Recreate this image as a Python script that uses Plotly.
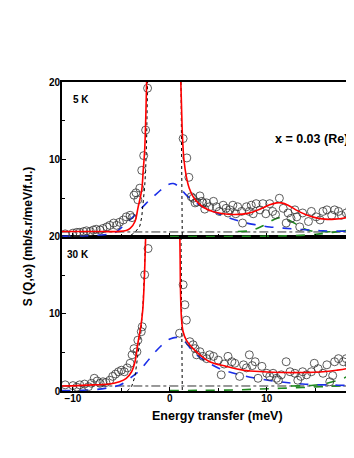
import plotly.graph_objects as go

# ---- 5 K panel (top) ----
e_5k = [-10.8, -10.0, -9.6, -9.3, -8.9, -8.6, -8.2, -7.9, -7.6, -7.2, -6.9, -6.5, -6.2, -5.8,
        -5.5, -5.2, -4.8, -4.5, -4.1, -3.9, -3.7, -3.5, -3.3, -3.1, -2.9, -2.7, -2.5, -2.3,
        1.37, 1.75, 1.96, 2.2, 2.4, 2.6, 2.8, 3.1, 3.3, 3.4, 3.6, 3.8, 4.1, 4.5, 4.8, 5.1,
        5.5, 5.8, 6.0, 6.2, 6.5, 6.8, 7.0, 7.4, 7.5, 7.9, 8.2, 8.4, 8.6, 8.9, 9.3, 9.6, 9.9,
        10.3, 10.6, 10.9, 11.3, 11.7, 12.0, 12.2, 12.5, 12.9, 13.1, 13.4, 13.7, 14.3, 14.6,
        15.1, 15.5, 15.8, 16.2, 16.7, 17.0, 17.4, 17.7, 18.2, 18.6, 18.8]
s_5k = [0.4, 0.5, 0.6, 0.6, 0.7, 0.8, 0.7, 0.9, 1.0, 0.9, 1.1, 1.3, 1.5, 1.8,
        1.5, 1.9, 2.2, 2.6, 2.8, 2.5, 5.4, 5.7, 4.8, 6.3, 8.6, 10.5, 13.8, 19.2,
        12.7, 10.2, 7.7, 5.2, 5.0, 4.4, 4.5, 5.3, 4.6, 4.4, 3.6, 4.4, 3.9, 4.6, 3.9, 3.3,
        4.1, 3.7, 3.1, 3.5, 4.1, 3.0, 3.9, 3.3, 1.8, 3.9, 3.3, 4.1, 3.0, 4.3, 3.5, 4.3, 3.0,
        4.3, 3.3, 2.9, 5.0, 3.7, 1.8, 3.1, 2.4, 3.5, 2.6, 1.3, 3.1, 2.0, 3.3,
        2.6, 2.2, 3.3, 3.5, 2.8, 3.5, 3.3, 2.8, 3.1, 3.7, 3.1]

fit_e_5k = [-11.2, -9.0, -7.0, -5.2, -4.5, -4.1, -3.6, -3.3, -2.9, -2.75, -2.6, -2.4, None,
            1.13, 1.2, 1.3, 1.45, 1.7, 2.0, 2.5, 3.0, 3.5, 4.5, 5.5, 6.5, 7.5, 8.5, 9.5,
            10.3, 11.0, 11.5, 12.2, 13.0, 14.0, 15.0, 16.0, 17.0, 18.0, 19.0, 20.0]
fit_s_5k = [0.7, 0.7, 0.7, 0.72, 0.85, 1.1, 2.0, 3.7, 6.1, 8.6, 11.2, 20, None,
            20, 17, 13, 10, 7.8, 6.3, 5.0, 4.3, 3.8, 3.25, 3.0, 2.9, 2.95, 3.2, 3.7,
            4.15, 4.4, 4.4, 4.1, 3.5, 2.9, 2.5, 2.3, 2.3, 2.45, 2.8, 3.2]

qe_e_5k = [-11.2, -9.0, -7.2, -6.2, -5.5, -4.5, -3.8, -3.1, -2.4, -1.7, -1.0, -0.3, 0.35, 1.0,
           1.7, 2.2, 2.75, 3.4, 4.1, 5.0, 5.8, 6.8, 7.9, 9.0, 10.3, 11.7, 13.1, 14.5, 15.8,
           17.5, 19.1, 20.0]
qe_s_5k = [0.1, 0.15, 0.25, 0.4, 0.7, 1.8, 2.6, 3.5, 4.4, 5.2, 6.0, 6.7, 6.9, 6.4,
           5.4, 4.9, 4.35, 3.9, 3.5, 3.0, 2.6, 2.2, 1.8, 1.55, 1.3, 1.15, 1.0, 0.9, 0.8,
           0.75, 0.7, 0.7]

cef_e_5k = [7.0, 8.2, 9.0, 9.6, 10.2, 10.8, 11.3, 11.8, 12.4, 12.9, 13.4, 13.9, 14.5, 15.5,
            16.5, 17.5, 18.2, 19.1, 20.0]
cef_s_5k = [0.7, 0.8, 1.1, 1.45, 1.9, 2.3, 2.5, 2.45, 2.1, 1.75, 1.35, 1.05, 0.8, 0.7,
            0.68, 0.72, 0.85, 1.15, 1.5]
cef2_e_5k = [0.0, 3.0, 6.0, 9.0, 12.0, 14.0, 15.5, 16.8, 18.0, 19.1, 20.0]
cef2_s_5k = [0.05, 0.05, 0.07, 0.1, 0.15, 0.25, 0.4, 0.6, 0.8, 1.0, 1.2]

el_e_5k = [-4.6, -4.0, -3.6, -3.3, -3.1, -2.9, -2.75, -2.6, -2.5, -2.4, -2.3, None,
           1.15, 1.2, 1.28]
el_s_5k = [0, 0.25, 0.6, 1.0, 1.4, 2.6, 4.3, 6.5, 8.6, 12.5, 20, None,
           20, 8, 0]

bg_e = [-11.2, 20.0]
bg_s_5k = [0.65, 0.65]

# ---- 30 K panel (bottom) ----
e_30k = [-10.8, -10.0, -9.6, -9.3, -8.8, -8.4, -8.1, -7.8, -7.5, -7.2, -6.9, -6.6, -6.2, -5.9,
         -5.6, -5.3, -5.0, -4.7, -4.4, -4.1, -3.9, -3.7, -3.4, -3.3, -2.95, -2.85, -2.6, -2.25,
         1.0, 1.37, 1.55, 1.7, 2.06, 2.4, 2.6, 2.75, 3.1, 3.4, 3.8, 4.1, 4.5, 5.0, 5.3, 5.6,
         6.0, 6.4, 6.7, 7.2, 7.6, 7.9, 8.2, 8.5, 8.8, 9.1, 9.5, 10.0, 10.3, 10.65, 11.0, 11.2,
         11.5, 12.0, 12.4, 12.9, 13.2, 13.5, 13.7, 14.1, 14.6, 14.9, 15.3, 15.8, 16.2, 16.5,
         16.8, 17.0, 17.4, 17.9, 18.2, 18.5, 18.7]
s_30k = [0.8, 0.7, 0.5, 0.8, 0.9, 0.56, 1.0, 1.65, 1.3, 1.0, 1.2, 1.1, 1.4, 1.9,
         2.2, 2.5, 2.7, 2.5, 3.0, 3.6, 4.7, 5.5, 5.1, 6.6, 7.7, 8.35, 15.1, 18.5,
         7.5, 13.8, 11.2, 9.2, 6.4, 6.0, 5.5, 4.7, 5.1, 4.5, 4.2, 4.7, 4.5, 4.0, 2.1, 3.5,
         4.5, 3.8, 3.6, 1.9, 3.4, 3.0, 4.7, 3.3, 3.8, 1.65, 3.2, 2.3, 1.9, 2.3, 1.65, 1.4,
         2.1, 3.8, 2.5, 2.3, 1.4, 1.9, 2.5, 2.1, 2.5, 3.6, 2.9, 2.3, 3.4, 1.2,
         2.0, 3.8, 4.2, 3.8, 4.2, 3.5, 4.5]

fit_e_30k = [-11.2, -9.5, -7.9, -6.2, -5.2, -4.5, -3.95, -3.6, -3.3, -3.0, -2.8, -2.65, -2.5, None,
             1.03, 1.06, 1.1, 1.2, 1.37, 1.7, 2.4, 3.1, 4.1, 5.8, 7.6, 9.6, 11.7, 13.7, 15.8,
             17.2, 18.2, 19.1, 20.0]
fit_s_30k = [0.65, 0.7, 0.8, 0.9, 1.2, 1.65, 2.5, 3.8, 6.2, 8.35, 10.5, 14, 20, None,
             20, 17.2, 12.9, 9.4, 7.7, 6.6, 5.5, 4.7, 3.8, 3.2, 2.7, 2.5, 2.4, 2.4, 2.5,
             2.7, 2.9, 3.2, 3.6]

qe_e_30k = [-11.2, -9.0, -7.6, -6.2, -5.2, -4.8, -4.1, -3.1, -2.1, -1.0, 0.0, 0.8, 1.55, 2.2,
            2.75, 3.8, 5.15, 6.9, 8.9, 11.3, 13.7, 16.5, 19.1, 20.0]
qe_s_30k = [0.05, 0.1, 0.2, 0.45, 0.75, 1.0, 1.65, 2.7, 4.2, 5.75, 6.75, 6.95, 6.4, 5.4,
            4.7, 3.8, 2.9, 2.2, 1.65, 1.2, 0.9, 0.78, 0.7, 0.7]

cef_e_30k = [12.5, 13.7, 14.8, 15.8, 16.5, 17.2, 18.0, 18.8, 19.1, 20.0]
cef_s_30k = [0.65, 0.68, 0.75, 0.9, 1.1, 1.35, 1.7, 2.15, 2.3, 2.8]
cef2_e_30k = [0.0, 3.0, 6.9, 10.3, 13.7, 15.5, 16.5, 17.8, 19.1, 20.0]
cef2_s_30k = [0.05, 0.08, 0.15, 0.3, 0.45, 0.55, 0.6, 0.7, 0.8, 0.9]

el_e_30k = [-4.4, -3.95, -3.6, -3.3, -3.0, -2.75, -2.6, -2.5, None, 1.15, 1.2, 1.28]
el_s_30k = [0, 0.56, 1.9, 4.5, 7.5, 11.8, 16, 20, None, 20, 8, 0]

bg_s_30k = [0.65, 0.65]

FONT = "Liberation Sans"

fig = go.Figure()


def add_panel(xa, ya, e, s, fe, fs, qe, qs, ce, cs, c2e, c2s, ee, es, bs):
    fig.add_trace(go.Scatter(x=bg_e, y=bs, mode="lines", xaxis=xa, yaxis=ya,
                             line=dict(color="#333333", width=1, dash="dashdot")))
    fig.add_trace(go.Scatter(x=c2e, y=c2s, mode="lines", xaxis=xa, yaxis=ya, line_shape="spline",
                             line=dict(color="#1f8a1f", width=1.6, dash="dash")))
    fig.add_trace(go.Scatter(x=ce, y=cs, mode="lines", xaxis=xa, yaxis=ya, line_shape="spline",
                             line=dict(color="#1f8a1f", width=1.6, dash="dash")))
    fig.add_trace(go.Scatter(x=qe, y=qs, mode="lines", xaxis=xa, yaxis=ya, line_shape="spline",
                             line=dict(color="#1a2ee8", width=1.6, dash="dash")))
    fig.add_trace(go.Scatter(x=ee, y=es, mode="lines", xaxis=xa, yaxis=ya,
                             line=dict(color="black", width=1, dash="dot")))
    fig.add_trace(go.Scatter(x=e, y=s, mode="markers", xaxis=xa, yaxis=ya,
                             marker=dict(symbol="circle-open", size=8, color="#333333",
                                         line=dict(width=0.8))))
    fig.add_trace(go.Scatter(x=fe, y=fs, mode="lines", xaxis=xa, yaxis=ya, line_shape="spline",
                             line=dict(color="#ff0000", width=1.6)))


add_panel("x2", "y", e_5k, s_5k, fit_e_5k, fit_s_5k, qe_e_5k, qe_s_5k,
          cef_e_5k, cef_s_5k, cef2_e_5k, cef2_s_5k, el_e_5k, el_s_5k, bg_s_5k)
add_panel("x", "y2", e_30k, s_30k, fit_e_30k, fit_s_30k, qe_e_30k, qe_s_30k,
          cef_e_30k, cef_s_30k, cef2_e_30k, cef2_s_30k, el_e_30k, el_s_30k, bg_s_30k)

tickfont = dict(family=FONT, size=10, color="black", weight="bold")
xcommon = dict(range=[-11.13, 19.0], showline=True, linecolor="black", linewidth=1.6,
               mirror=True, ticks="inside", ticklen=4, tickwidth=1.2, tickcolor="black",
               tickvals=[-10, 0, 10], showgrid=False, zeroline=False, ticklabelstandoff=-3,
               minor=dict(ticks="inside", tickvals=[-5, 5, 15], ticklen=3, tickcolor="black"))
ycommon = dict(range=[0, 20], showline=True, linecolor="black", linewidth=1.6,
               ticks="inside", ticklen=4, tickwidth=1.2, tickcolor="black",
               showgrid=False, zeroline=False, tickfont=tickfont, ticklabelstandoff=-2,
               minor=dict(ticks="inside", tickvals=[5, 15], ticklen=3, tickcolor="black"))

fig.update_layout(
    width=346, height=436,
    margin=dict(l=54, r=0, t=74, b=53),
    paper_bgcolor="white", plot_bgcolor="white",
    showlegend=False,
    xaxis=dict(xcommon, anchor="y2", tickfont=tickfont),
    xaxis2=dict(xcommon, anchor="y", matches="x", showticklabels=False),
    yaxis=dict(ycommon, domain=[0.4984, 1], anchor="x2", tickvals=[10, 20]),
    yaxis2=dict(ycommon, domain=[0, 0.4984], anchor="x", tickvals=[0, 10, 20]),
    annotations=[
        dict(text="5 K", x=-9.2, y=17.8, xref="x2", yref="y", showarrow=False,
             font=dict(family=FONT, size=10, color="black", weight="bold")),
        dict(text="30 K", x=-9.5, y=17.75, xref="x", yref="y2", showarrow=False,
             font=dict(family=FONT, size=10, color="black", weight="bold")),
        dict(text="x = 0.03 (Re)", x=14.6, y=12.65, xref="x2", yref="y", showarrow=False,
             font=dict(family=FONT, size=12.5, color="black", weight="bold")),
        dict(text="S (Q,ω) (mb/s.r/meV/f.u.)", x=-0.116, y=0.498, xref="paper", yref="paper",
             xanchor="center", yanchor="middle", textangle=-90, showarrow=False,
             font=dict(family=FONT, size=12, color="black", weight="bold")),
        dict(text="Energy transfer (meV)", x=0.534, y=-0.081, xref="paper", yref="paper",
             xanchor="center", yanchor="middle", showarrow=False,
             font=dict(family=FONT, size=12.5, color="black", weight="bold")),
    ],
)

fig.write_html("out.html")
